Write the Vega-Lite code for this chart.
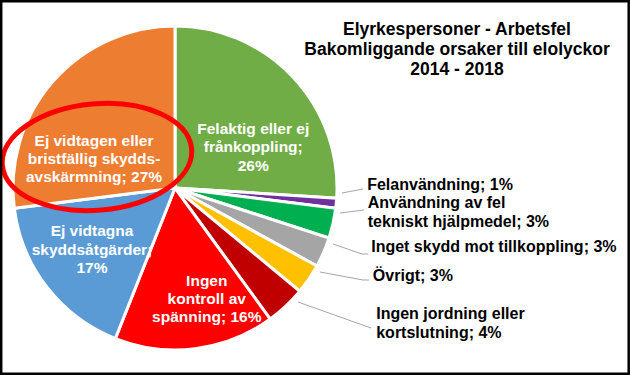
{
  "$schema": "https://vega.github.io/schema/vega-lite/v6.json",
  "width": 350,
  "height": 350,
  "autosize": {"type": "none"},
  "padding": {"left": 0, "top": 13, "right": 280, "bottom": 12},
  "background": "white",
  "config": {"view": {"stroke": null}, "font": "Liberation Sans"},
  "title": {
    "text": ["Elyrkespersoner - Arbetsfel", "Bakomliggande orsaker till elolyckor", "2014 - 2018"],
    "anchor": "start",
    "frame": "group",
    "align": "center",
    "baseline": "top",
    "dx": 457,
    "dy": 79,
    "offset": 0,
    "fontSize": 17.5,
    "fontWeight": "bold",
    "lineHeight": 20,
    "color": "black",
    "font": "Liberation Sans"
  },
  "layer": [
    {
      "data": {
        "values": [
          {"cat": "Felaktig eller ej frånkoppling", "value": 26, "order": 1, "label": "Felaktig eller ej\nfrånkoppling;\n26%"},
          {"cat": "Felanvändning", "value": 1, "order": 2, "label": "Felanvändning; 1%"},
          {"cat": "Användning av fel tekniskt hjälpmedel", "value": 3, "order": 3, "label": "Användning av fel\ntekniskt hjälpmedel; 3%"},
          {"cat": "Inget skydd mot tillkoppling", "value": 3, "order": 4, "label": "Inget skydd mot tillkoppling; 3%"},
          {"cat": "Övrigt", "value": 3, "order": 5, "label": "Övrigt; 3%"},
          {"cat": "Ingen jordning eller kortslutning", "value": 4, "order": 6, "label": "Ingen jordning eller\nkortslutning; 4%"},
          {"cat": "Ingen kontroll av spänning", "value": 16, "order": 7, "label": "Ingen\nkontroll av\nspänning; 16%"},
          {"cat": "Ej vidtagna skyddsåtgärder", "value": 17, "order": 8, "label": "Ej vidtagna\nskyddsåtgärder;\n17%"},
          {"cat": "Ej vidtagen eller bristfällig skyddsavskärmning", "value": 27, "order": 9, "label": "Ej vidtagen eller\nbristfällig skydds-\navskärmning; 27%"}
        ]
      },
      "encoding": {
        "theta": {"field": "value", "type": "quantitative", "stack": true},
        "order": {"field": "order", "type": "quantitative"}
      },
      "layer": [
        {
          "mark": {"type": "arc", "outerRadius": 162, "stroke": "white", "strokeWidth": 3},
          "encoding": {
            "color": {
              "field": "cat",
              "type": "nominal",
              "scale": {
                "domain": ["Felaktig eller ej frånkoppling", "Felanvändning", "Användning av fel tekniskt hjälpmedel", "Inget skydd mot tillkoppling", "Övrigt", "Ingen jordning eller kortslutning", "Ingen kontroll av spänning", "Ej vidtagna skyddsåtgärder", "Ej vidtagen eller bristfällig skyddsavskärmning"],
                "range": ["#70AD47", "#7030A0", "#00B050", "#A5A5A5", "#FFC000", "#C00000", "#FF0000", "#5B9BD5", "#ED7D31"]
              },
              "legend": null
            }
          }
        },
        {
          "mark": {"type": "text", "radius": 95, "dx": 9, "dy": 6, "fontSize": 15.5, "fontWeight": "bold", "color": "white", "lineBreak": "\n", "lineHeight": 18.5, "align": "center", "baseline": "middle"},
          "encoding": {"text": {"condition": {"test": "datum.order == 1", "field": "label", "type": "nominal"}, "value": ""}}
        },
        {
          "mark": {"type": "text", "radius": 110, "dx": 18, "dy": -16, "fontSize": 15.5, "fontWeight": "bold", "color": "white", "lineBreak": "\n", "lineHeight": 18, "align": "center", "baseline": "middle"},
          "encoding": {"text": {"condition": {"test": "datum.order == 7", "field": "label", "type": "nominal"}, "value": ""}}
        },
        {
          "mark": {"type": "text", "radius": 100, "dx": -4, "dy": -18, "fontSize": 15.5, "fontWeight": "bold", "color": "white", "lineBreak": "\n", "lineHeight": 18.5, "align": "center", "baseline": "middle"},
          "encoding": {"text": {"condition": {"test": "datum.order == 8", "field": "label", "type": "nominal"}, "value": ""}}
        },
        {
          "mark": {"type": "text", "radius": 100, "dx": -6, "dy": 19, "fontSize": 15.5, "fontWeight": "bold", "color": "white", "lineBreak": "\n", "lineHeight": 18, "align": "center", "baseline": "middle"},
          "encoding": {"text": {"condition": {"test": "datum.order == 9", "field": "label", "type": "nominal"}, "value": ""}}
        },
        {
          "mark": {"type": "text", "radius": 180, "dx": 13, "dy": -20, "fontSize": 16, "fontWeight": "bold", "color": "black", "lineBreak": "\n", "lineHeight": 19, "align": "left", "baseline": "middle"},
          "encoding": {"text": {"condition": {"test": "datum.order == 2", "field": "label", "type": "nominal"}, "value": ""}}
        },
        {
          "mark": {"type": "text", "radius": 180, "dx": 17, "dy": -24, "fontSize": 16, "fontWeight": "bold", "color": "black", "lineBreak": "\n", "lineHeight": 19, "align": "left", "baseline": "middle"},
          "encoding": {"text": {"condition": {"test": "datum.order == 3", "field": "label", "type": "nominal"}, "value": ""}}
        },
        {
          "mark": {"type": "text", "radius": 180, "dx": 31, "dy": -12, "fontSize": 16, "fontWeight": "bold", "color": "black", "lineBreak": "\n", "lineHeight": 19, "align": "left", "baseline": "middle"},
          "encoding": {"text": {"condition": {"test": "datum.order == 4", "field": "label", "type": "nominal"}, "value": ""}}
        },
        {
          "mark": {"type": "text", "radius": 180, "dx": 49, "dy": -13, "fontSize": 16, "fontWeight": "bold", "color": "black", "lineBreak": "\n", "lineHeight": 19, "align": "left", "baseline": "middle"},
          "encoding": {"text": {"condition": {"test": "datum.order == 5", "field": "label", "type": "nominal"}, "value": ""}}
        },
        {
          "mark": {"type": "text", "radius": 180, "dx": 78, "dy": -5, "fontSize": 16, "fontWeight": "bold", "color": "black", "lineBreak": "\n", "lineHeight": 19, "align": "left", "baseline": "middle"},
          "encoding": {"text": {"condition": {"test": "datum.order == 6", "field": "label", "type": "nominal"}, "value": ""}}
        }
      ]
    },
    {
      "data": {"values": [{"note": "annotation"}]},
      "layer": [
        {
          "mark": {"type": "rule", "color": "#A6A6A6", "strokeWidth": 1},
          "encoding": {
            "x": {"datum": 342, "type": "quantitative", "scale": {"domain": [0, 350]}, "axis": null},
            "y": {"datum": 180, "type": "quantitative", "scale": {"domain": [0, 350], "reverse": true}, "axis": null},
            "x2": {"datum": 363},
            "y2": {"datum": 176}
          }
        },
        {
          "mark": {"type": "rule", "color": "#A6A6A6", "strokeWidth": 1},
          "encoding": {
            "x": {"datum": 340, "type": "quantitative", "scale": {"domain": [0, 350]}, "axis": null},
            "y": {"datum": 200, "type": "quantitative", "scale": {"domain": [0, 350], "reverse": true}, "axis": null},
            "x2": {"datum": 364},
            "y2": {"datum": 197}
          }
        },
        {
          "mark": {"type": "rule", "color": "#A6A6A6", "strokeWidth": 1},
          "encoding": {
            "x": {"datum": 333, "type": "quantitative", "scale": {"domain": [0, 350]}, "axis": null},
            "y": {"datum": 231, "type": "quantitative", "scale": {"domain": [0, 350], "reverse": true}, "axis": null},
            "x2": {"datum": 362},
            "y2": {"datum": 241}
          }
        },
        {
          "mark": {"type": "rule", "color": "#A6A6A6", "strokeWidth": 1},
          "encoding": {
            "x": {"datum": 362, "type": "quantitative", "scale": {"domain": [0, 350]}, "axis": null},
            "y": {"datum": 241, "type": "quantitative", "scale": {"domain": [0, 350], "reverse": true}, "axis": null},
            "x2": {"datum": 368},
            "y2": {"datum": 241}
          }
        },
        {
          "mark": {"type": "rule", "color": "#A6A6A6", "strokeWidth": 1},
          "encoding": {
            "x": {"datum": 320, "type": "quantitative", "scale": {"domain": [0, 350]}, "axis": null},
            "y": {"datum": 259, "type": "quantitative", "scale": {"domain": [0, 350], "reverse": true}, "axis": null},
            "x2": {"datum": 363},
            "y2": {"datum": 267}
          }
        },
        {
          "mark": {"type": "rule", "color": "#A6A6A6", "strokeWidth": 1},
          "encoding": {
            "x": {"datum": 363, "type": "quantitative", "scale": {"domain": [0, 350]}, "axis": null},
            "y": {"datum": 267, "type": "quantitative", "scale": {"domain": [0, 350], "reverse": true}, "axis": null},
            "x2": {"datum": 369},
            "y2": {"datum": 267}
          }
        },
        {
          "mark": {"type": "rule", "color": "#A6A6A6", "strokeWidth": 1},
          "encoding": {
            "x": {"datum": 298, "type": "quantitative", "scale": {"domain": [0, 350]}, "axis": null},
            "y": {"datum": 289, "type": "quantitative", "scale": {"domain": [0, 350], "reverse": true}, "axis": null},
            "x2": {"datum": 371},
            "y2": {"datum": 315}
          }
        },
        {
          "mark": {
            "type": "point",
            "shape": "M -1 0 C -1 -0.309 -0.552 -0.56 0 -0.56 C 0.552 -0.56 1 -0.309 1 0 C 1 0.309 0.552 0.56 0 0.56 C -0.552 0.56 -1 0.309 -1 0 Z",
            "size": 36100,
            "filled": false,
            "color": "#FF0000",
            "strokeWidth": 5,
            "opacity": 1,
            "angle": -5
          },
          "encoding": {
            "x": {"datum": 97, "type": "quantitative", "scale": {"domain": [0, 350]}, "axis": null},
            "y": {"datum": 144, "type": "quantitative", "scale": {"domain": [0, 350], "reverse": true}, "axis": null}
          }
        },
        {
          "mark": {"type": "rect", "filled": false, "stroke": "black", "strokeWidth": 2.5, "fill": null},
          "encoding": {
            "x": {"datum": 1.2, "type": "quantitative", "scale": {"domain": [0, 350]}, "axis": null},
            "y": {"datum": -11.8, "type": "quantitative", "scale": {"domain": [0, 350], "reverse": true}, "axis": null},
            "x2": {"datum": 628.7},
            "y2": {"datum": 360.7}
          }
        }
      ]
    }
  ]
}
